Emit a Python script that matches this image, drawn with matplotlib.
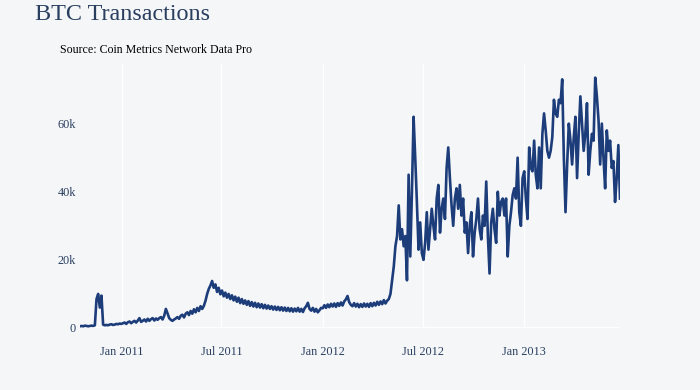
import matplotlib
matplotlib.use("Agg")
import matplotlib.pyplot as plt
import matplotlib.dates as mdates
import numpy as np
import pandas as pd

# daily transactions sampled every 3 days, in thousands
start_date = "2010-10-17"
early = [0.5, 0.6, 0.5, 0.7, 0.6, 0.5, 0.6, 0.7, 0.6, 0.8,
         8.5, 10.0, 6.0, 9.5,
         1.0, 0.8, 0.9, 0.8, 1.0, 1.1, 0.9, 1.0, 1.2, 1.1, 1.3, 1.2,
         1.4, 1.6, 1.2, 1.7, 1.9, 1.4, 1.8, 2.1, 1.6, 2.2, 2.9, 1.8, 2.1, 2.5,
         1.9, 2.7, 2.1, 2.6, 2.9, 2.2, 2.8, 2.4,
         2.9, 3.2, 2.5, 3.6, 5.6, 4.3, 2.9, 2.4, 2.1,
         2.5, 2.8, 3.2, 2.7, 3.6, 3.9, 3.1, 4.2,
         4.6, 3.8, 5.0, 4.2, 5.5, 4.6, 5.9, 5.0, 6.4, 5.6,
         6.5, 8.0, 10.0, 11.5, 12.5, 13.8, 11.8, 12.8]
mid = [10.6, 11.8, 9.9, 11.0, 9.3, 10.4, 8.9, 10.0, 8.5, 9.6, 8.1, 9.2, 7.7, 8.9,
       7.3, 8.5, 7.1,
       8.1, 6.8, 7.9, 6.5, 7.6, 6.3, 7.4, 6.1, 7.2, 6.0, 7.0, 5.8, 6.8, 5.7, 6.6, 5.6,
       6.4, 5.4, 6.3, 5.3, 6.2, 5.2, 6.1, 5.1, 6.0, 5.0, 5.9, 4.9,
       5.8, 4.8, 5.7, 4.9, 5.9, 4.8, 5.6, 4.7, 5.8, 6.4, 7.4, 5.6, 5.1, 5.9, 4.8,
       5.6, 4.6, 5.2,
       5.9, 5.8, 6.7, 5.9, 6.9, 6.1, 7.1, 6.3, 7.2, 6.2, 7.3, 6.5, 7.5, 6.6, 7.8,
       8.4, 9.4, 7.6, 6.8, 6.4, 7.3, 6.3, 7.1, 6.1, 7.0, 6.2, 7.2, 6.3, 7.1, 6.2,
       7.3, 6.4, 7.4, 6.6, 7.7, 6.8, 7.8, 7.0, 8.2, 7.2, 8.0]
late = [8.5,
        10, 14, 18, 24, 27, 36, 26, 29, 24, 27, 14, 45,
        21, 40, 62, 50, 37, 23, 31, 22, 20, 25,
        34, 23, 29, 35, 30, 26, 38, 42, 28, 35,
        38, 32, 47, 53, 44, 36, 30, 38, 41, 35,
        42, 33, 38, 28, 31, 22, 30, 34, 21, 28,
        32, 38, 29, 26, 33, 30, 43, 27, 16, 31,
        35, 29, 25, 40, 33, 37, 38, 33, 38, 21,
        30, 34, 39, 41,
        38, 50, 34, 30, 44, 46, 38, 32, 53, 47,
        46, 55, 45, 41, 53, 41, 57, 63, 58, 52,
        50, 52, 56, 67, 63, 62, 67, 66, 73, 50,
        34, 48, 60, 55, 48, 56, 62, 44, 57, 68,
        60, 52, 57, 66, 45, 52, 57, 55, 73.5, 68,
        61, 48, 60, 50, 41, 58, 52, 55, 47, 49,
        37, 44, 53.7, 38]

tx = np.array(early + mid + late) * 1000
dates = pd.date_range(start_date, periods=len(tx), freq="3D")

bg = "#f5f6f8"
text_col = "#2a3f5f"

fig = plt.figure(figsize=(7, 3.9), dpi=100, facecolor=bg)
ax = fig.add_axes([80 / 700, 1 - 328 / 390, 540 / 700, 264 / 390])
ax.set_facecolor(bg)

ax.plot(dates, tx, color="#1c3d7a", linewidth=1.9, zorder=3)

ax.set_xlim(dates[0], dates[-1])
ax.set_ylim(0, 77500)

ax.xaxis.set_major_locator(mdates.MonthLocator(bymonth=[1, 7]))
ax.xaxis.set_major_formatter(mdates.DateFormatter("%b %Y"))
ax.set_yticks([0, 20000, 40000, 60000])
ax.set_yticklabels(["0", "20k", "40k", "60k"])

ax.grid(axis="x", color="white", linewidth=1)
ax.axhline(0, color="white", linewidth=2, zorder=2)
for s in ax.spines.values():
    s.set_visible(False)
ax.tick_params(length=0, colors=text_col, labelsize=8.8)
ax.tick_params(axis="x", pad=13)
ax.tick_params(axis="y", pad=3)
for lbl in ax.get_xticklabels() + ax.get_yticklabels():
    lbl.set_fontfamily("Liberation Serif")

fig.text(35 / 700, 1 - 14 / 390, "BTC Transactions", fontsize=17.4,
         family="Liberation Serif", color=text_col, va="center", ha="left")
fig.text(60 / 700, 1 - 50 / 390, "Source: Coin Metrics Network Data Pro",
         fontsize=8.6, family="Liberation Serif", color="black",
         va="center", ha="left")

fig.savefig("out.png", dpi=100, facecolor=bg)
